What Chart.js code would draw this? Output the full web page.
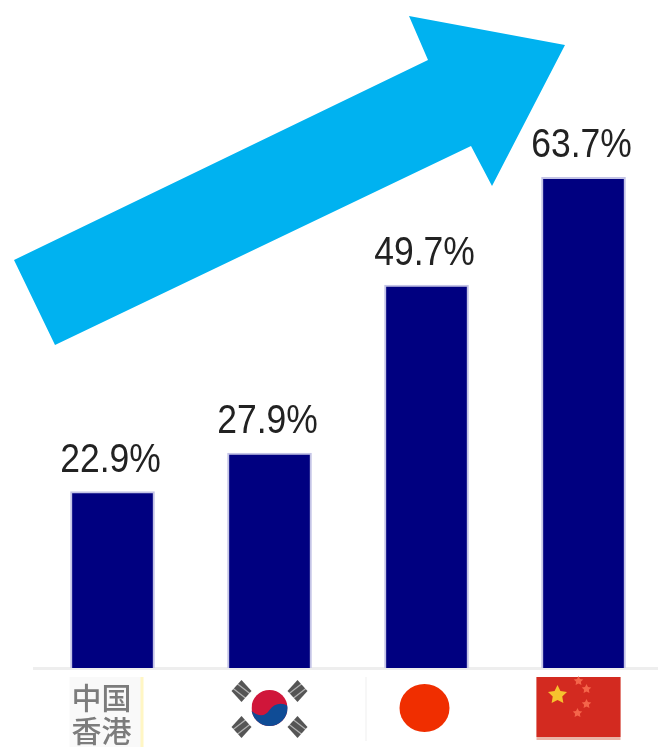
<!DOCTYPE html>
<html>
<head>
<meta charset="utf-8">
<script src="https://cdn.jsdelivr.net/npm/chart.js@4"></script>
<style>
  html, body { margin: 0; padding: 0; background: #fff; overflow: hidden; }
  #wrap { width: 658px; height: 747px; overflow: hidden; }
  /* the reference is a soft upscaled picture */
  canvas { display: block; filter: blur(0.5px); }
</style>
</head>
<body>
<div id="wrap"><canvas id="chart" width="662" height="747"></canvas></div>
<script>
var categories = ['中国香港', '韩国', '日本', '中国'];
var values = [22.9, 27.9, 49.7, 63.7];
var tickLines = [['中国', '香港'], '', '', ''];
var yMax = 86.7;

// the big rising arrow, not data
var arrowShape = [[14, 260], [428, 60], [409, 16], [565, 45], [492, 186], [471, 146], [55, 345]];

function circle(ctx, x, y, rx, ry, color) {
  ctx.fillStyle = color;
  ctx.beginPath();
  ctx.ellipse(x, y, rx, ry, 0, 0, Math.PI * 2);
  ctx.fill();
}

function star(ctx, x, y, r, color) {
  ctx.fillStyle = color;
  ctx.beginPath();
  for (var i = 0; i < 10; i++) {
    var rad = i % 2 ? r * 0.5 : r;
    var a = -Math.PI / 2 + i * Math.PI / 5;
    ctx.lineTo(x + Math.cos(a) * rad, y + Math.sin(a) * rad);
  }
  ctx.closePath();
  ctx.fill();
}

function drawHongKongBox(ctx, cx) {
  ctx.fillStyle = '#f9f9f9';
  ctx.fillRect(cx - 43, 677, 72, 70);
  ctx.fillStyle = '#fff6c4';
  ctx.fillRect(cx + 28, 677, 3, 70);
}

function drawKorea(ctx, cx) {
  var cy = 708;
  ctx.save();
  ctx.beginPath();
  ctx.arc(cx, cy, 18, 0, Math.PI * 2);
  ctx.clip();
  ctx.fillStyle = '#d0163a';
  ctx.fillRect(cx - 18, cy - 18, 36, 36);
  ctx.fillStyle = '#0f4c96';
  ctx.beginPath();
  ctx.moveTo(cx - 19, cy + 2);
  ctx.bezierCurveTo(cx - 10, cy + 10, cx - 4, cy + 8, cx, cy + 2);
  ctx.bezierCurveTo(cx + 5, cy - 5, cx + 12, cy - 6, cx + 19, cy - 2);
  ctx.lineTo(cx + 19, cy + 19);
  ctx.lineTo(cx - 19, cy + 19);
  ctx.closePath();
  ctx.fill();
  ctx.restore();
  var spots = [[-28, -17, 1], [28, -17, -1], [-28, 19, -1], [28, 19, 1]];
  spots.forEach(function(s) {
    var dx = cx + s[0], dy = cy + s[1];
    ctx.fillStyle = '#555';
    ctx.beginPath();
    ctx.moveTo(dx, dy - 11);
    ctx.lineTo(dx + 10, dy);
    ctx.lineTo(dx, dy + 11);
    ctx.lineTo(dx - 10, dy);
    ctx.closePath();
    ctx.fill();
    // the white cuts of the trigrams
    ctx.strokeStyle = 'rgba(255,255,255,0.55)';
    ctx.lineWidth = 1.2;
    for (var k = -1; k <= 1; k += 2) {
      ctx.beginPath();
      ctx.moveTo(dx - 9, dy + k * 4 - s[2] * 7);
      ctx.lineTo(dx + 9, dy + k * 4 + s[2] * 7);
      ctx.stroke();
    }
  });
}

function drawJapan(ctx, cx) {
  ctx.fillStyle = '#f0f0f0';
  ctx.fillRect(cx - 61, 677, 1, 64);
  circle(ctx, cx - 2, 708, 25, 24, '#f02e00');
}

function drawChina(ctx, cx) {
  ctx.fillStyle = '#eab4a8';
  ctx.fillRect(cx - 47, 677, 84, 63);
  ctx.fillStyle = '#d32a20';
  ctx.fillRect(cx - 47, 677, 84, 60);
  star(ctx, cx - 26, 695, 10, '#f6c22e');
  star(ctx, cx - 5, 681, 5, '#f4654a');
  star(ctx, cx + 3, 689, 5, '#f4654a');
  star(ctx, cx + 3, 704, 5, '#f4654a');
  star(ctx, cx - 6, 713, 5, '#f4654a');
}

var decorations = {
  id: 'decorations',
  beforeDraw: function(chart) {
    var ctx = chart.ctx;
    var x = chart.scales.x;
    ctx.save();
    drawHongKongBox(ctx, x.getPixelForTick(0));
    drawKorea(ctx, x.getPixelForTick(1));
    drawJapan(ctx, x.getPixelForTick(2));
    drawChina(ctx, x.getPixelForTick(3));
    ctx.restore();
  },
  afterDatasetsDraw: function(chart) {
    var ctx = chart.ctx;
    ctx.save();
    // arrow
    ctx.fillStyle = '#00b2f0';
    ctx.beginPath();
    arrowShape.forEach(function(p) { ctx.lineTo(p[0], p[1]); });
    ctx.closePath();
    ctx.fill();
    // value labels above the bars, the reference text is a bit stretched in height
    ctx.fillStyle = '#222';
    ctx.font = '35.5px "Liberation Sans"';
    ctx.textAlign = 'center';
    ctx.textBaseline = 'alphabetic';
    chart.getDatasetMeta(0).data.forEach(function(bar, i) {
      ctx.save();
      ctx.translate(bar.x - 2, bar.y - 20);
      ctx.scale(1, 1.12);
      ctx.fillText(values[i].toFixed(1) + '%', 0, 0);
      ctx.restore();
    });
    ctx.restore();
  }
};

var mychart = new Chart(document.getElementById('chart').getContext('2d'), {
  type: 'bar',
  data: {
    labels: categories,
    datasets: [{
      data: values,
      backgroundColor: '#000080',
      borderColor: '#c4c4e6',
      borderWidth: 2,
      barThickness: 84
    }]
  },
  options: {
    responsive: false,
    animation: false,
    layout: { padding: { left: 34, right: 0, top: 0, bottom: 0 } },
    plugins: { legend: { display: false }, tooltip: { enabled: false } },
    scales: {
      x: {
        grid: { display: false },
        border: { color: '#eeeeee', width: 3 },
        afterFit: function(scale) { scale.height = 79; },
        ticks: {
          maxRotation: 0,
          autoSkip: false,
          padding: 6,
          labelOffset: -11,
          color: '#7c7c7c',
          font: { family: '"Noto Sans CJK SC"', size: 30, weight: '500', lineHeight: 1.07 },
          callback: function(value, index) { return tickLines[index]; }
        }
      },
      y: { display: false, min: 0, max: yMax }
    }
  },
  plugins: [decorations]
});
</script>
</body>
</html>
